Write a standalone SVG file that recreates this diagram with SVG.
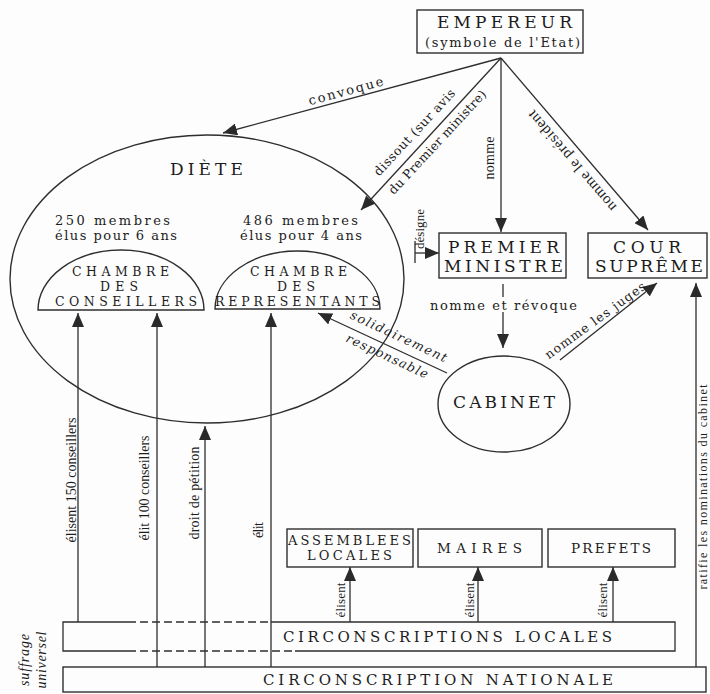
<svg xmlns="http://www.w3.org/2000/svg" width="710" height="694" viewBox="0 0 710 694">
<defs>
<style>
.bx{fill:none;stroke:#2e2e2e;stroke-width:1.4}
.ln{fill:none;stroke:#2e2e2e;stroke-width:1.3}
.ar{marker-end:url(#ah)}
.dash{stroke-dasharray:8 4}
text{fill:#1c1c1c}
.s{font-family:"DejaVu Serif","Liberation Serif",serif}
.c{font-family:"Liberation Serif","Times New Roman",serif}
.it{font-style:italic}
</style>
<marker id="ah" viewBox="0 0 14 12" refX="14" refY="6" markerWidth="14" markerHeight="12" markerUnits="userSpaceOnUse" orient="auto"><path d="M0,0 L14,6 L0,12 z" fill="#2a2a2a"/></marker>
</defs>
<rect width="710" height="694" fill="#fdfdfd"/>

<g id="empereur">
<rect class="bx" x="417" y="10" width="166" height="43"/>
<text class="s" x="437" y="28" font-size="17" textLength="135" lengthAdjust="spacing">EMPEREUR</text>
<text class="s" x="425" y="47" font-size="13" textLength="155" lengthAdjust="spacing">(symbole de l'Etat)</text>
</g>

<g id="diete">
<ellipse class="bx" cx="207" cy="279" rx="197" ry="144"/>
<text class="s" x="170" y="175" font-size="17" textLength="73" lengthAdjust="spacing">DIÈTE</text>
<text class="s" x="55" y="225" font-size="13" textLength="115" lengthAdjust="spacing">250 membres</text>
<text class="s" x="55" y="240" font-size="13" textLength="122" lengthAdjust="spacing">élus pour 6 ans</text>
<text class="s" x="243" y="225" font-size="13" textLength="115" lengthAdjust="spacing">486 membres</text>
<text class="s" x="240" y="240" font-size="13" textLength="122" lengthAdjust="spacing">élus pour 4 ans</text>
</g>

<g id="chambre-conseillers">
<path class="bx" d="M38,310 A83,60 0 0 1 204,310 Z"/>
<text class="s" x="72" y="276" font-size="12.5" textLength="97" lengthAdjust="spacing">CHAMBRE</text>
<text class="s" x="100" y="291" font-size="12.5" textLength="38" lengthAdjust="spacing">DES</text>
<text class="s" x="55" y="306" font-size="12.5" textLength="142" lengthAdjust="spacing">CONSEILLERS</text>
</g>

<g id="chambre-representants">
<path class="bx" d="M215,309 A82.5,58 0 0 1 380,309 Z"/>
<text class="s" x="250" y="276" font-size="12.5" textLength="97" lengthAdjust="spacing">CHAMBRE</text>
<text class="s" x="277" y="291" font-size="12.5" textLength="38" lengthAdjust="spacing">DES</text>
<text class="s" x="215" y="306" font-size="12.5" textLength="165" lengthAdjust="spacing">REPRESENTANTS</text>
</g>

<g id="premier-ministre">
<rect class="bx" x="439" y="233" width="127" height="45"/>
<text class="s" x="448" y="253" font-size="17" textLength="111" lengthAdjust="spacing">PREMIER</text>
<text class="s" x="444" y="272" font-size="17" textLength="119" lengthAdjust="spacing">MINISTRE</text>
</g>

<g id="cour-supreme">
<rect class="bx" x="588" y="233" width="119" height="45"/>
<text class="s" x="613" y="253" font-size="17" textLength="68" lengthAdjust="spacing">COUR</text>
<text class="s" x="595" y="272" font-size="17" textLength="108" lengthAdjust="spacing">SUPRÊME</text>
</g>

<g id="cabinet">
<ellipse class="bx" cx="504" cy="404" rx="66" ry="48"/>
<text class="s" x="453" y="408" font-size="17" textLength="102" lengthAdjust="spacing">CABINET</text>
</g>

<g id="assemblees-locales">
<rect class="bx" x="287" y="529" width="126" height="38"/>
<text class="s" x="288" y="545" font-size="13" textLength="123" lengthAdjust="spacing">ASSEMBLEES</text>
<text class="s" x="307" y="560" font-size="13" textLength="85" lengthAdjust="spacing">LOCALES</text>
</g>

<g id="maires">
<rect class="bx" x="418" y="529" width="124" height="38"/>
<text class="s" x="437" y="553" font-size="13.5" textLength="85" lengthAdjust="spacing">MAIRES</text>
</g>

<g id="prefets">
<rect class="bx" x="548" y="529" width="127" height="38"/>
<text class="s" x="571" y="553" font-size="13.5" textLength="80" lengthAdjust="spacing">PREFETS</text>
</g>

<g id="circ-locales">
<path class="ln" d="M128,622 H63 V651 H128 M271,622 H675 V651 H295"/>
<path class="ln dash" d="M128,622 H271 M128,651 H295"/>
<text class="s" x="283" y="642" font-size="15" textLength="329" lengthAdjust="spacing">CIRCONSCRIPTIONS LOCALES</text>
</g>

<g id="circ-nationale">
<rect class="bx" x="63" y="667" width="643" height="25"/>
<text class="s" x="263" y="685" font-size="15" textLength="350" lengthAdjust="spacing">CIRCONSCRIPTION NATIONALE</text>
</g>

<g id="suffrage-universel">
<text class="c it" transform="translate(29,660) rotate(-90)" text-anchor="middle" font-size="14" textLength="52" lengthAdjust="spacing">suffrage</text>
<text class="c it" transform="translate(46,660) rotate(-90)" text-anchor="middle" font-size="14" textLength="57" lengthAdjust="spacing">universel</text>
</g>

<g id="connectors">
<line class="ln ar" x1="501" y1="58" x2="223" y2="133"/>
<line class="ln ar" x1="501" y1="58" x2="361" y2="210"/>
<line class="ln ar" x1="501" y1="58" x2="501" y2="232"/>
<line class="ln ar" x1="501" y1="58" x2="648" y2="230"/>
<line class="ln ar" x1="415" y1="253" x2="439" y2="253"/>
<line class="ln" x1="415" y1="241" x2="415" y2="263"/>
<line class="ln" x1="503" y1="284" x2="503" y2="297"/>
<line class="ln ar" x1="503" y1="312" x2="503" y2="348"/>
<line class="ln ar" x1="560" y1="360" x2="657" y2="283"/>
<line class="ln ar" x1="447" y1="373" x2="318" y2="313"/>
<line class="ln ar" x1="696" y1="667" x2="696" y2="283"/>
<line class="ln ar" x1="78" y1="622" x2="78" y2="313"/>
<line class="ln ar" x1="157" y1="667" x2="157" y2="313"/>
<line class="ln ar" x1="205" y1="667" x2="205" y2="426"/>
<line class="ln ar" x1="271" y1="667" x2="271" y2="313"/>
<line class="ln ar" x1="350" y1="622" x2="350" y2="567"/>
<line class="ln ar" x1="478" y1="622" x2="478" y2="567"/>
<line class="ln ar" x1="613" y1="622" x2="613" y2="567"/>
</g>

<g id="connector-labels">
<text class="s" transform="translate(347,95.3) rotate(-15.1)" text-anchor="middle" font-size="13" textLength="77" lengthAdjust="spacing">convoque</text>
<text class="s" transform="translate(417.5,135.3) rotate(-47.1)" text-anchor="middle" font-size="12.5" textLength="113" lengthAdjust="spacing">dissout (sur avis</text>
<text class="s" transform="translate(440.5,145.1) rotate(-47.1)" text-anchor="middle" font-size="12.5" textLength="137" lengthAdjust="spacing">du Premier ministre)</text>
<text class="c" transform="translate(494,158) rotate(-90)" text-anchor="middle" font-size="14" textLength="43" lengthAdjust="spacing">nomme</text>
<text class="c" transform="translate(575.4,157.8) rotate(229.5)" text-anchor="middle" font-size="15" textLength="128" lengthAdjust="spacing">nomme le président</text>
<text class="c" transform="translate(424,229) rotate(-90)" text-anchor="middle" font-size="13" textLength="40" lengthAdjust="spacing">désigne</text>
<text class="s" x="430" y="310" font-size="13" textLength="147" lengthAdjust="spacing">nomme et révoque</text>
<text class="s" transform="translate(597.8,323.9) rotate(-36)" text-anchor="middle" font-size="12.5" textLength="121" lengthAdjust="spacing">nomme les juges</text>
<text class="s it" transform="translate(396.9,340.2) rotate(24.9)" text-anchor="middle" font-size="12.5" textLength="105" lengthAdjust="spacing">solidairement</text>
<text class="s it" transform="translate(385.3,360) rotate(24.9)" text-anchor="middle" font-size="12.5" textLength="89" lengthAdjust="spacing">responsable</text>
<text class="c" transform="translate(707,487) rotate(-90)" text-anchor="middle" font-size="12" textLength="205" lengthAdjust="spacing">ratifie les nominations du cabinet</text>
<text class="c" transform="translate(76,480) rotate(-90)" text-anchor="middle" font-size="14" textLength="125" lengthAdjust="spacing">élisent 150 conseillers</text>
<text class="c" transform="translate(149,488) rotate(-90)" text-anchor="middle" font-size="14" textLength="105" lengthAdjust="spacing">élit 100 conseillers</text>
<text class="c" transform="translate(199,493) rotate(-90)" text-anchor="middle" font-size="14" textLength="93" lengthAdjust="spacing">droit de pétition</text>
<text class="c" transform="translate(263,530) rotate(-90)" text-anchor="middle" font-size="14" textLength="16" lengthAdjust="spacing">élit</text>
<text class="c" transform="translate(345,600) rotate(-90)" text-anchor="middle" font-size="13" textLength="35" lengthAdjust="spacing">élisent</text>
<text class="c" transform="translate(474,600) rotate(-90)" text-anchor="middle" font-size="13" textLength="35" lengthAdjust="spacing">élisent</text>
<text class="c" transform="translate(607,600) rotate(-90)" text-anchor="middle" font-size="13" textLength="35" lengthAdjust="spacing">élisent</text>
</g>
</svg>
